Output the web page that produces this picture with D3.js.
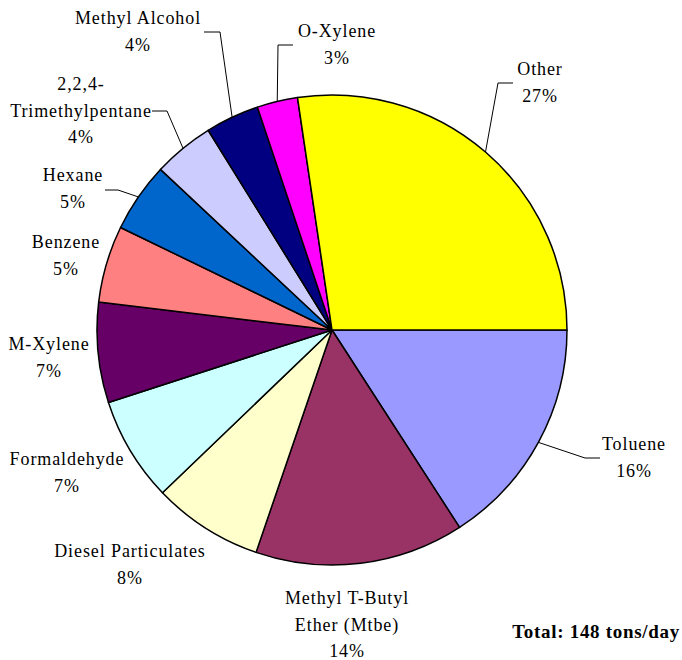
<!DOCTYPE html>
<html>
<head>
<meta charset="utf-8">
<script src="https://cdn.jsdelivr.net/npm/d3@7"></script>
<style>
  body { margin: 0; background: #fff; }
</style>
</head>
<body>
<svg id="chart" width="682" height="660"></svg>
<script>
// Data (clockwise from 3 o'clock)
const categories = ["Toluene", "Methyl T-Butyl Ether (Mtbe)", "Diesel Particulates", "Formaldehyde",
  "M-Xylene", "Benzene", "Hexane", "2,2,4-Trimethylpentane", "Methyl Alcohol", "O-Xylene", "Other"];
const labelLines = [["Toluene"], ["Methyl T-Butyl", "Ether (Mtbe)"], ["Diesel Particulates"], ["Formaldehyde"],
  ["M-Xylene"], ["Benzene"], ["Hexane"], ["2,2,4-", "Trimethylpentane"], ["Methyl Alcohol"], ["O-Xylene"], ["Other"]];
const shares = [15.9, 14.4, 7.6, 7.2, 6.9, 5.3, 4.8, 4.2, 3.7, 2.8, 27.4];
const colors = ["#9999FF", "#993366", "#FFFFCC", "#CCFFFF", "#660066", "#FF8080",
  "#0066CC", "#CCCCFF", "#000080", "#FF00FF", "#FFFF00"];
const totalText = "Total: 148 tons/day";

// Label layout: text centre x, first baseline y, optional leader elbow + end
const labelLayout = [
  { x: 634, y: 450, elbow: [585, 458], end: [600, 458] },
  { x: 347, y: 604 },
  { x: 130, y: 557 },
  { x: 67, y: 465 },
  { x: 49, y: 350 },
  { x: 66, y: 248 },
  { x: 73, y: 181, elbow: [118, 190], end: [105, 190] },
  { x: 81, y: 90, elbow: [167, 111], end: [152, 111] },
  { x: 138, y: 24, elbow: [220, 32], end: [204, 32] },
  { x: 337, y: 37, elbow: [278, 45], end: [293, 45] },
  { x: 540, y: 75, elbow: [498, 83], end: [513, 83] }
];

const fontFamily = "'Liberation Serif', 'Times New Roman', serif";
const cx = 332, cy = 330, radius = 235, lineH = 26.5;
const svg = d3.select("#chart");
const total = d3.sum(shares);
const fmt = d3.format(".0%");

const pie = d3.pie().sort(null).value(d => d)
  .startAngle(Math.PI / 2).endAngle(Math.PI / 2 + 2 * Math.PI);
const arcs = pie(shares);
const arc = d3.arc().innerRadius(0).outerRadius(radius);

const g = svg.append("g").attr("transform", `translate(${cx},${cy})`);

g.selectAll("path.slice")
  .data(arcs)
  .join("path")
  .attr("class", "slice")
  .attr("d", arc)
  .attr("fill", (d, i) => colors[i])
  .attr("stroke", "#000")
  .attr("stroke-width", 1.5)
  .attr("stroke-linejoin", "round");

// Leader lines
arcs.forEach((d, i) => {
  const lay = labelLayout[i];
  if (!lay.elbow) return;
  const mid = (d.startAngle + d.endAngle) / 2;
  const p0 = [cx + radius * Math.sin(mid), cy - radius * Math.cos(mid)];
  svg.append("polyline")
    .attr("points", [p0, lay.elbow, lay.end].map(p => p.join(",")).join(" "))
    .attr("fill", "none")
    .attr("stroke", "#000")
    .attr("stroke-width", 1);
});

// Labels
arcs.forEach((d, i) => {
  const lay = labelLayout[i];
  const lines = labelLines[i].concat([fmt(shares[i] / total)]);
  const t = svg.append("text")
    .attr("font-family", fontFamily)
    .attr("font-size", 18)
    .attr("letter-spacing", 0.9)
    .attr("text-anchor", "middle")
    .attr("x", lay.x)
    .attr("y", lay.y);
  lines.forEach((s, j) => {
    t.append("tspan")
      .attr("x", lay.x)
      .attr("dy", j === 0 ? 0 : lineH)
      .text(s);
  });
});

svg.append("text")
  .attr("font-family", fontFamily)
  .attr("font-size", 19)
  .attr("letter-spacing", 0.7)
  .attr("x", 680)
  .attr("y", 638)
  .attr("text-anchor", "end")
  .attr("font-weight", "bold")
  .text(totalText);
</script>
</body>
</html>
